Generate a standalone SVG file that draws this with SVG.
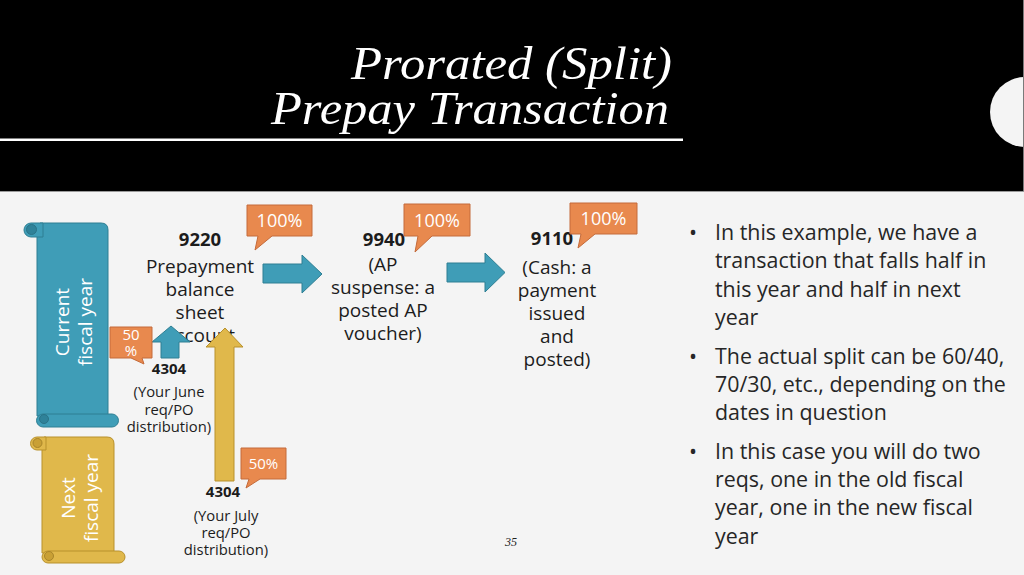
<svg xmlns="http://www.w3.org/2000/svg" width="1024" height="575" viewBox="0 0 1024 575">
  <defs>
    <style>
      .body { font-family: "Open Sans", "Noto Sans", "DejaVu Sans", sans-serif; fill: #1c1c1c; }
      .lbl { font-size: 19px; text-anchor: middle; }
      .num { font-size: 18.5px; font-weight: bold; text-anchor: middle; }
      .sm { font-size: 14.8px; text-anchor: middle; }
      .smb { font-size: 15px; font-weight: bold; text-anchor: middle; }
      .bul { font-size: 21.4px; fill: #262626; }
      .call { fill: #e8894e; stroke: #c46a3a; stroke-width: 1; }
      .calltxt { font-family: "Open Sans", "Noto Sans", sans-serif; fill: #ffffff; text-anchor: middle; }
      .teal { fill: #3f9db7; stroke: #2e7f93; stroke-width: 1; }
      .tealdk { fill: #2f8299; stroke: #2a7387; stroke-width: 1; }
      .gold { fill: #e0b84b; stroke: #b8912c; stroke-width: 1; }
      .golddk { fill: #c9a035; stroke: #a9852a; stroke-width: 1; }
      .scrolltxt { font-family: "Open Sans", "Noto Sans", sans-serif; font-size: 19px; fill: #ffffff; text-anchor: middle; }
      .title { font-family: "Liberation Serif", "DejaVu Serif", serif; font-style: italic; font-size: 47px; fill: #ffffff; text-anchor: end; }
    </style>
  </defs>

  <!-- background -->
  <rect x="0" y="0" width="1024" height="575" fill="#f4f4f4"/>
  <rect x="0" y="0" width="1024" height="191" fill="#000000"/>
  <line x1="0" y1="191.5" x2="1024" y2="191.5" stroke="#9a9a9a" stroke-width="1"/>
  <circle cx="1025" cy="112" r="35" fill="#f4f4f4"/>
  <line x1="1023.5" y1="0" x2="1023.5" y2="191" stroke="#7a7a7a" stroke-width="1"/>

  <!-- title -->
  <g id="title">
    <text class="title" x="672" y="79" textLength="321" lengthAdjust="spacingAndGlyphs">Prorated (Split)</text>
    <text class="title" x="669" y="124" textLength="398" lengthAdjust="spacingAndGlyphs">Prepay Transaction</text>
    <rect x="0" y="138.5" width="683" height="2.5" fill="#ffffff"/>
  </g>

  <!-- current fiscal year scroll -->
  <g id="scroll-current">
    <path class="teal" d="M40,223 L101,223 Q108,223 108,230 L108,416 L37,416 L37,237 Z"/>
    <path class="teal" d="M43,223 L31,223 A7,7 0 0 0 31,237 L43,237 Z"/>
    <circle class="tealdk" cx="31.5" cy="229.5" r="5"/>
    <path class="teal" d="M43,414 L112,414 A6.5,6.5 0 0 1 112,427 L43,427 A6.5,6.5 0 0 1 43,414 Z"/>
    <circle class="tealdk" cx="44" cy="419" r="4.5"/>
    <text class="scrolltxt" transform="translate(69,322) rotate(-90)">Current</text>
    <text class="scrolltxt" transform="translate(92,322) rotate(-90)">fiscal year</text>
  </g>

  <!-- next fiscal year scroll -->
  <g id="scroll-next">
    <path class="gold" d="M44,437 L107,437 Q114,437 114,444 L114,553 L42,553 L42,450 Z"/>
    <path class="gold" d="M46,437 L37,437 A6.5,6.5 0 0 0 37,450 L46,450 Z"/>
    <circle class="golddk" cx="37.5" cy="443" r="4.5"/>
    <path class="gold" d="M48,551 L119,551 A6,6 0 0 1 119,563 L48,563 A6,6 0 0 1 48,551 Z"/>
    <circle class="golddk" cx="49" cy="556" r="4.5"/>
    <text class="scrolltxt" transform="translate(75,498) rotate(-90)">Next</text>
    <text class="scrolltxt" transform="translate(98,498) rotate(-90)">fiscal year</text>
  </g>

  <!-- node 9220 -->
  <g id="node-9220" class="body">
    <text class="num" x="200" y="246">9220</text>
    <text class="lbl" x="200" y="273">Prepayment</text>
    <text class="lbl" x="200" y="296">balance</text>
    <text class="lbl" x="200" y="319">sheet</text>
    <text class="lbl" x="200" y="342">account</text>
  </g>

  <!-- node 9940 -->
  <g id="node-9940" class="body">
    <text class="num" x="384" y="246">9940</text>
    <text class="lbl" x="383" y="271">(AP</text>
    <text class="lbl" x="383" y="294">suspense: a</text>
    <text class="lbl" x="383" y="317">posted AP</text>
    <text class="lbl" x="383" y="340">voucher)</text>
  </g>

  <!-- node 9110 -->
  <g id="node-9110" class="body">
    <text class="num" x="552" y="245">9110</text>
    <text class="lbl" x="557" y="274">(Cash: a</text>
    <text class="lbl" x="557" y="297">payment</text>
    <text class="lbl" x="557" y="320">issued</text>
    <text class="lbl" x="557" y="343">and</text>
    <text class="lbl" x="557" y="366">posted)</text>
  </g>

  <!-- node 4304 June -->
  <g id="node-4304-june" class="body">
    <text class="smb" x="169" y="374">4304</text>
    <text class="sm" x="169" y="397">(Your June</text>
    <text class="sm" x="169" y="414.5">req/PO</text>
    <text class="sm" x="169" y="432">distribution)</text>
  </g>

  <!-- node 4304 July -->
  <g id="node-4304-july" class="body">
    <text class="smb" x="223" y="497">4304</text>
    <text class="sm" x="226" y="521">(Your July</text>
    <text class="sm" x="226" y="538">req/PO</text>
    <text class="sm" x="226" y="555">distribution)</text>
  </g>

  <!-- connectors -->
  <g id="connectors">
    <path class="teal" d="M263,264 L302,264 L302,255 L322,274 L302,293 L302,283 L263,283 Z"/>
    <path class="teal" d="M447,263 L485,263 L485,253 L505,272.5 L485,292 L485,282 L447,282 Z"/>
    <path class="teal" d="M161,358 L161,342 L152,342 L171,326 L190,342 L179,342 L179,358 Z"/>
    <path class="gold" d="M215,481 L215,347 L206,347 L225,328 L243,347 L234,347 L234,481 Z"/>
  </g>

  <!-- callouts -->
  <g id="callout-1">
    <path class="call" d="M247,205 L312,205 L312,236 L272,236 L255,250 L258,236 L247,236 Z"/>
    <text class="calltxt" x="279.5" y="227" font-size="18">100%</text>
  </g>
  <g id="callout-2">
    <path class="call" d="M404,204 L470,204 L470,236 L432,236 L415,252 L418,236 L404,236 Z"/>
    <text class="calltxt" x="437" y="227" font-size="18">100%</text>
  </g>
  <g id="callout-3">
    <path class="call" d="M570,203 L637,203 L637,234 L595,234 L578,248 L581,234 L570,234 Z"/>
    <text class="calltxt" x="603.5" y="225" font-size="18">100%</text>
  </g>
  <g id="callout-june">
    <path class="call" d="M110,327 L152,327 L152,358 L142,358 L144,364 L131,358 L110,358 Z"/>
    <text class="calltxt" x="131" y="340" font-size="15">50</text>
    <text class="calltxt" x="131" y="356" font-size="15">%</text>
  </g>
  <g id="callout-july">
    <path class="call" d="M241,448 L286,448 L286,479 L260,479 L246,488 L249,479 L241,479 Z"/>
    <text class="calltxt" x="263.5" y="469" font-size="15">50%</text>
  </g>

  <!-- bullets -->
  <g id="bullets" class="body bul">
    <text x="689" y="240">•</text>
    <text x="715" y="240">In this example, we have a</text>
    <text x="715" y="268">transaction that falls half in</text>
    <text x="715" y="297">this year and half in next</text>
    <text x="715" y="325">year</text>
    <text x="689" y="364">•</text>
    <text x="715" y="364">The actual split can be 60/40,</text>
    <text x="715" y="392">70/30, etc., depending on the</text>
    <text x="715" y="420">dates in question</text>
    <text x="689" y="459">•</text>
    <text x="715" y="459">In this case you will do two</text>
    <text x="715" y="487">reqs, one in the old fiscal</text>
    <text x="715" y="515">year, one in the new fiscal</text>
    <text x="715" y="544">year</text>
  </g>

  <!-- page number -->
  <text x="511" y="546" font-family="Liberation Serif, serif" font-style="italic" font-size="12" fill="#222" text-anchor="middle">35</text>
</svg>
